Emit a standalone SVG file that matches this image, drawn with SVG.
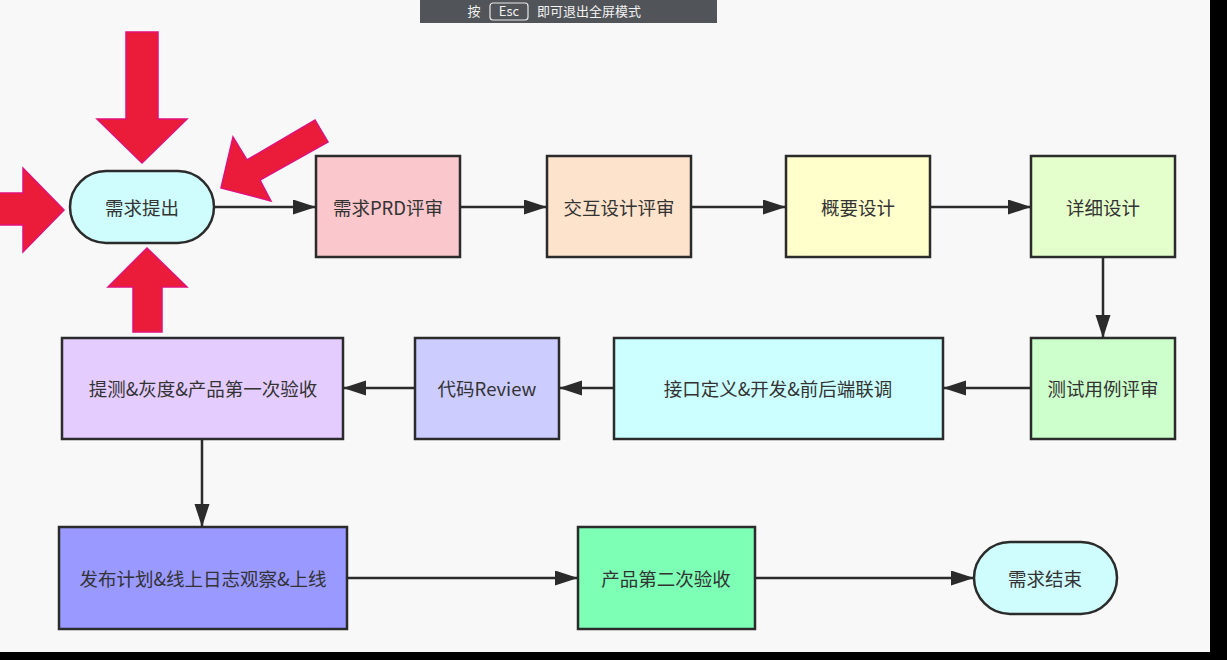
<svg xmlns="http://www.w3.org/2000/svg" width="1227" height="660" viewBox="0 0 1227 660">
<defs>
<style>
.n{stroke:#2b2b2b;stroke-width:2.5}
.t{font-family:"Noto Sans CJK SC","Noto Sans",sans-serif;font-size:18.5px;fill:#333;text-anchor:middle;dominant-baseline:central}
.c{stroke:#2b2b2b;stroke-width:2.5;fill:none;marker-end:url(#ah)}
.r{fill:#ea1c3a;stroke:#e0117a;stroke-width:1.5;stroke-linejoin:miter}
.b{font-family:"Noto Sans CJK SC","Noto Sans",sans-serif;font-size:13px;fill:#f2f2f2}
</style>
<marker id="ah" markerUnits="userSpaceOnUse" markerWidth="24" markerHeight="16" refX="23" refY="7.5" orient="auto">
<path d="M0,0 L23,7.5 L0,15 z" fill="#2b2b2b"/>
</marker>
</defs>
<rect x="0" y="0" width="1227" height="660" fill="#f8f8f8"/>
<g id="banner">
<rect x="420" y="0" width="297" height="23" fill="#515459"/>
<rect x="490" y="3" width="38" height="17" rx="3" fill="none" stroke="#e8e8e8" stroke-width="1.2"/>
<text class="b" x="474" y="16" text-anchor="middle">按</text>
<text class="b" x="509" y="16" text-anchor="middle">Esc</text>
<text class="b" x="537" y="16">即可退出全屏模式</text>
</g>
<g id="connectors">
<line class="c" x1="214" y1="207" x2="316" y2="207"/>
<line class="c" x1="460" y1="207" x2="547" y2="207"/>
<line class="c" x1="691" y1="207" x2="786" y2="207"/>
<line class="c" x1="930" y1="207" x2="1031" y2="207"/>
<line class="c" x1="1103" y1="257" x2="1103" y2="338"/>
<line class="c" x1="1031" y1="388" x2="943" y2="388"/>
<line class="c" x1="614" y1="388" x2="559" y2="388"/>
<line class="c" x1="415" y1="388" x2="343" y2="388"/>
<line class="c" x1="202" y1="439" x2="202" y2="527"/>
<line class="c" x1="347" y1="578" x2="578" y2="578"/>
<line class="c" x1="755" y1="578" x2="974" y2="578"/>
</g>
<g id="n_start"><rect class="n" x="70" y="171" width="144" height="72" rx="36" fill="#cffdfd"/><text class="t" x="142" y="207">需求提出</text></g>
<g id="n_prd"><rect class="n" x="316" y="156" width="144" height="101" fill="#f9c7cc"/><text class="t" x="388" y="207">需求PRD评审</text></g>
<g id="n_ux"><rect class="n" x="547" y="156" width="144" height="101" fill="#fde3cc"/><text class="t" x="619" y="207">交互设计评审</text></g>
<g id="n_outline"><rect class="n" x="786" y="156" width="144" height="101" fill="#ffffcc"/><text class="t" x="858" y="207">概要设计</text></g>
<g id="n_detail"><rect class="n" x="1031" y="156" width="144" height="101" fill="#e5ffcc"/><text class="t" x="1103" y="207">详细设计</text></g>
<g id="n_testcase"><rect class="n" x="1031" y="338" width="144" height="101" fill="#ccffcc"/><text class="t" x="1103" y="388">测试用例评审</text></g>
<g id="n_dev"><rect class="n" x="614" y="338" width="329" height="101" fill="#ccffff"/><text class="t" x="778" y="388">接口定义&amp;开发&amp;前后端联调</text></g>
<g id="n_review"><rect class="n" x="415" y="338" width="144" height="101" fill="#ccccff"/><text class="t" x="487" y="388">代码Review</text></g>
<g id="n_qa"><rect class="n" x="62" y="338" width="281" height="101" fill="#e5ccff"/><text class="t" x="203" y="388">提测&amp;灰度&amp;产品第一次验收</text></g>
<g id="n_release"><rect class="n" x="59" y="527" width="288" height="102" fill="#9999ff"/><text class="t" x="203" y="578">发布计划&amp;线上日志观察&amp;上线</text></g>
<g id="n_accept2"><rect class="n" x="578" y="527" width="177" height="102" fill="#7dffb5"/><text class="t" x="666" y="578">产品第二次验收</text></g>
<g id="n_end"><rect class="n" x="974" y="542" width="143" height="72" rx="36" fill="#cffdfd"/><text class="t" x="1045" y="578">需求结束</text></g>
<g id="red_arrows">
<polygon class="r" points="126,32 158,32 158,119 187,119 142,163 97,119 126,119"/>
<polygon class="r" points="-5,193 23,193 23,168 64,210 23,252 23,225 -5,225"/>
<polygon class="r" points="147,248 187,287 162,287 162,332 133,332 133,287 108,287"/>
<polygon class="r" points="221,188 233,137 247,160 315,120 328,142 260,180 271,201"/>
</g>
<rect x="1210" y="0" width="17" height="660" fill="#000"/>
<rect x="0" y="652" width="1227" height="8" fill="#000"/>
</svg>
